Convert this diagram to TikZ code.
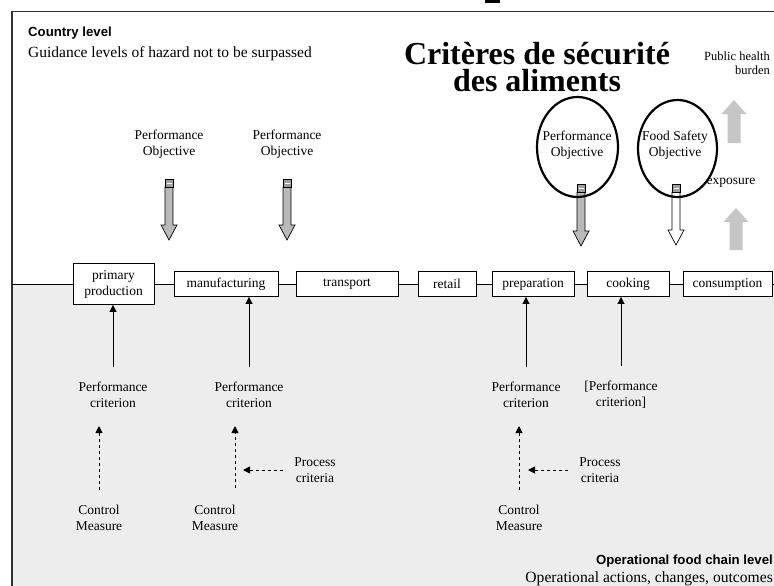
\documentclass[tikz,border=0pt]{standalone}
\usepackage{fontspec}
\setmainfont{Liberation Serif}
\newfontfamily\sansfnt{Liberation Sans}
\usetikzlibrary{arrows.meta}
\tikzset{
  lbl/.style={font=\fontsize{13.5}{16}\selectfont, align=center, inner sep=0pt},
  stage/.style={draw, line width=0.9pt, fill=white, font=\fontsize{13.5}{16}\selectfont,
    align=center, inner sep=0pt, minimum height=25},
  solidarr/.style={line width=0.9pt, -{Triangle[length=7pt,width=7pt]}},
  dasharr/.style={line width=0.9pt, dash pattern=on 3.5pt off 2.5pt, -{Triangle[length=7pt,width=7pt]}},
  ringline/.style={draw, line width=2.2pt},
  framedline/.style={line width=1.4pt, black!80},
  titlefont/.style={inner sep=0pt, anchor=base, font=\bfseries\fontsize{32}{36}\selectfont},
}
% fat downward arrow: x, y top, y tip, fill colour
\newcommand\FatDown[4]{%
  \filldraw[fill=#4, draw=black, line width=0.7pt]
    (#1-4,#2+8) -- (#1-4,#3-15) -- (#1-8,#3-15) -- (#1,#3) -- (#1+8,#3-15)
    -- (#1+4,#3-15) -- (#1+4,#2+8) -- cycle;
  \filldraw[fill=gray!75, draw=black, line width=0.7pt] (#1-4,#2) rectangle (#1+4,#2+8);
  \draw[white, line width=0.9pt] (#1-2.5,#2+4) -- (#1+2.5,#2+4);
}
% light upward arrow: x, y tip, y bottom
\newcommand\FatUp[3]{%
  \fill[gray!45] (#1-6.5,#3) -- (#1-6.5,#2+14) -- (#1-12.5,#2+14) -- (#1,#2)
    -- (#1+12.5,#2+14) -- (#1+6.5,#2+14) -- (#1+6.5,#3) -- cycle;
}
\begin{document}
\begin{tikzpicture}[x=1pt, y=-1pt]
\useasboundingbox (0,0) rectangle (774,586);
\fill[white] (0,0) rectangle (774,586);
% lower background texture
\fill[black!7] (12,284) rectangle (774,586);
% frame
\draw[framedline] (774,11.5) -- (12,11.5) -- (12,586);
\fill[black] (485,0) rectangle (500,3);

% header texts
\node[anchor=base west, inner sep=0pt, font=\sansfnt\bfseries\fontsize{13.2}{16}\selectfont] (country) at (28,37) {Country level};
\node[anchor=base west, inner sep=0pt, font=\fontsize{15.5}{18}\selectfont] (guide) at (28,58) {Guidance levels of hazard not to be surpassed};
\node[titlefont] (title1) at (537,65) {Critères de sécurité};
\node[titlefont] (title2) at (537,92) {des aliments};
\node[inner sep=0pt, align=right, anchor=east, font=\fontsize{12.5}{14}\selectfont] (phb) at (770,63) {Public health\\burden};

% chain
\coordinate (cl) at (12,284);
\coordinate (cr) at (774,284);
\node[stage, minimum width=81, minimum height=41] (pp) at (113.5,284) {primary\\production};
\node[stage, minimum width=104] (mf) at (226,284) {manufacturing};
\node[stage, minimum width=102] (tr) at (347,284) {transport};
\node[stage, minimum width=58] (rt) at (447,284) {retail};
\node[stage, minimum width=82] (prep) at (533,284) {preparation};
\node[stage, minimum width=82] (cook) at (628,284) {cooking};
\node[stage, minimum width=89] (cons) at (727.5,284) {consumption};
\draw[line width=0.9pt] (cl) -- (pp) -- (mf) -- (tr) -- (rt) -- (prep) -- (cook) -- (cons) -- (cr);

% top objectives
\node[lbl] (po1) at (169,144) {Performance\\Objective};
\node[lbl] (po2) at (287,144) {Performance\\Objective};
\FatDown{169}{179}{240}{gray!55}
\FatDown{287}{179}{240}{gray!55}
\FatDown{581}{184}{246}{gray!55}
\FatDown{676}{184}{245}{white}
\node[lbl] (po3) at (577,145.5) {Performance\\Objective};
\node[lbl] (fso) at (675,145.5) {Food Safety\\Objective};
\draw[ringline] (po3.center) ++(0.5,1.5) ellipse [x radius=40.5, y radius=50];
\draw[ringline] (fso.center) ++(2.5,3) ellipse [x radius=39.5, y radius=48.5];

% exposure side
\FatUp{734}{100}{143}
\FatUp{736}{208}{250}
\node[lbl] (expo) at (731,183) {exposure};

% performance criteria
\node[lbl] (pc1) at (113,395) {Performance\\criterion};
\node[lbl] (pc2) at (249,395) {Performance\\criterion};
\node[lbl] (pc3) at (526,395) {Performance\\criterion};
\node[lbl] (pc4) at (621,395) {[Performance\\criterion]};
\draw[solidarr, shorten <=15pt] (pc1.north) -- (pc1.north |- pp.south);
\draw[solidarr, shorten <=15pt] (pc2.north) -- (pc2.north |- mf.south);
\draw[solidarr, shorten <=15pt] (pc3.north) -- (pc3.north |- prep.south);
\draw[solidarr, shorten <=15pt] (pc4.north) -- (pc4.north |- cook.south);

% control measures
\node[lbl] (cm1) at (99,518) {Control\\Measure};
\node[lbl] (cm2) at (215,518) {Control\\Measure};
\node[lbl] (cm3) at (519,518) {Control\\Measure};
\coordinate (d2) at (235,488);
\draw[dasharr, shorten <=15pt, shorten >=18pt] (cm1.north) -- (cm1.north |- pc1.south);
\draw[dasharr, shorten >=18pt] (d2) -- (d2 |- pc2.south);
\draw[dasharr, shorten <=15pt, shorten >=18pt] (cm3.north) -- (cm3.north |- pc3.south);

% process criteria
\node[lbl] (pcr1) at (315,470) {Process\\criteria};
\node[lbl] (pcr2) at (600,470) {Process\\criteria};
\draw[dasharr, shorten <=11pt, shorten >=8pt] (pcr1.west) -- (d2 |- pcr1.west);
\draw[dasharr, shorten <=11pt, shorten >=9pt] (pcr2.west) -- (cm3.north |- pcr2.west);

% bottom texts
\node[anchor=base east, inner sep=0pt, font=\sansfnt\bfseries\fontsize{13.2}{16}\selectfont] (opl) at (773,564) {Operational food chain level};
\node[anchor=base east, inner sep=0pt, font=\fontsize{15.6}{18}\selectfont] (opa) at (773,582) {Operational actions, changes, outcomes};
\end{tikzpicture}
\end{document}
